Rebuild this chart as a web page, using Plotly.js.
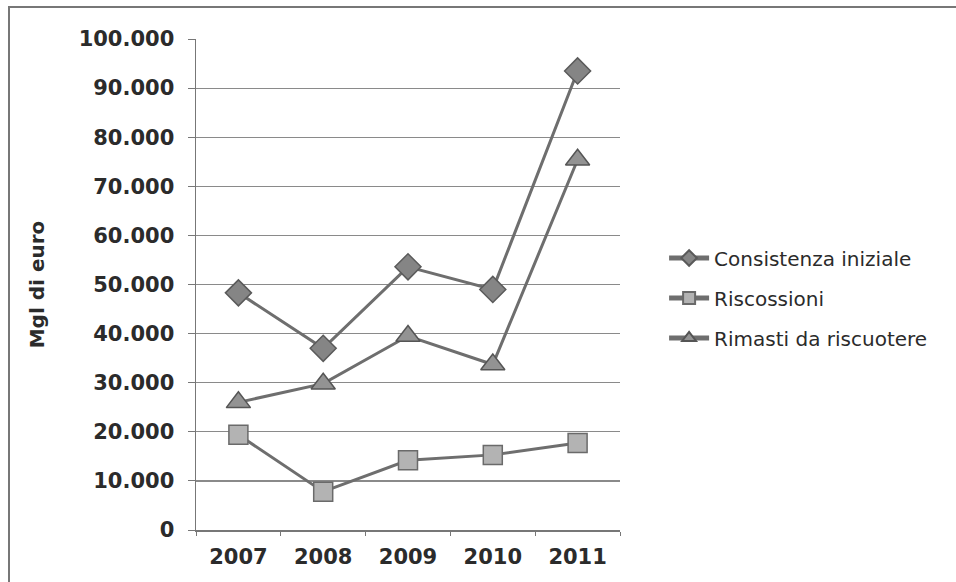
<!DOCTYPE html>
<html>
<head>
<meta charset="utf-8">
<script src="https://cdn.plot.ly/plotly-3.0.1.min.js"></script>
<style>
  html, body { margin: 0; padding: 0; background: #fff; }
  #wrap { position: relative; width: 956px; height: 582px; overflow: hidden; }
  #chart { width: 956px; height: 582px; }
  #frame { position: absolute; left: 8px; top: 6px; width: 960px; height: 600px;
           border-left: 2px solid #777; border-top: 2px solid #777; pointer-events: none; }
</style>
</head>
<body>
<div id="wrap">
  <div id="chart"></div>
  <div id="frame"></div>
</div>
<script>
const years = ['2007', '2008', '2009', '2010', '2011'];
const consistenzaIniziale = [48300, 37000, 53600, 49000, 93500];
const riscossioni = [19400, 7800, 14200, 15300, 17700];
const rimastiDaRiscuotere = [26000, 29800, 39500, 33700, 75400];
const seriesNames = ['Consistenza iniziale', 'Riscossioni', 'Rimasti da riscuotere'];
const yTickValues = [0, 10000, 20000, 30000, 40000, 50000, 60000, 70000, 80000, 90000, 100000];
const yTickLabels = ['0', '10.000', '20.000', '30.000', '40.000', '50.000', '60.000', '70.000', '80.000', '90.000', '100.000'];

const lineColor = '#6e6e6e';
const traces = [
  {
    x: years, y: consistenzaIniziale, name: seriesNames[0], type: 'scatter', mode: 'lines+markers',
    legendgroup: 'a',
    line: { color: lineColor, width: 3 },
    marker: { symbol: 'diamond', size: 20, color: '#858585', line: { color: '#5a5a5a', width: 1.5 } }
  },
  {
    x: years, y: riscossioni, name: seriesNames[1], type: 'scatter', mode: 'lines+markers',
    legendgroup: 'b',
    line: { color: lineColor, width: 3 },
    marker: { symbol: 'square', size: 19, color: '#b3b3b3', line: { color: '#6a6a6a', width: 1.5 } }
  },
  {
    x: years, y: rimastiDaRiscuotere, name: seriesNames[2], type: 'scatter', mode: 'lines+markers',
    legendgroup: 'c',
    line: { color: lineColor, width: 3 },
    marker: { symbol: 'triangle-up', size: 21, color: '#939393', line: { color: '#555', width: 1.5 } }
  }
];

const fam = 'DejaVu Sans, Verdana, sans-serif';
const layout = {
  width: 956, height: 582,
  margin: { l: 196, r: 336, t: 39, b: 52 },
  paper_bgcolor: '#ffffff', plot_bgcolor: '#ffffff',
  showlegend: true,
  font: { family: fam, color: '#2b2b2b' },
  xaxis: {
    type: 'category',
    range: [-0.5, 4.5],
    showgrid: false,
    showline: true, linecolor: '#777', linewidth: 1.5,
    ticks: 'outside', tickson: 'boundaries', ticklen: 4, tickcolor: '#777',
    ticklabelstandoff: 7,
    tickfont: { family: fam, size: 21, color: '#2b2b2b', weight: 'bold' },
    zeroline: false
  },
  yaxis: {
    range: [0, 100000],
    tickvals: yTickValues, ticktext: yTickLabels,
    showgrid: true, gridcolor: '#8a8a8a', gridwidth: 1.2,
    showline: true, linecolor: '#777', linewidth: 1.5,
    ticks: 'outside', ticklen: 7, tickcolor: '#777',
    ticklabelstandoff: 9,
    tickfont: { family: fam, size: 21, color: '#2b2b2b', weight: 'bold' },
    zeroline: false,
    title: { text: 'Mgl di euro', standoff: 28,
             font: { family: fam, size: 20, color: '#2b2b2b', weight: 'bold' } }
  },
  legend: {
    x: 1.104, xanchor: 'left', xref: 'paper',
    y: 0.4725, yanchor: 'middle',
    traceorder: 'grouped', tracegroupgap: 11,
    itemwidth: 40, itemsizing: 'constant',
    bgcolor: 'rgba(0,0,0,0)',
    font: { family: fam, size: 20, color: '#2b2b2b' }
  }
};

Plotly.newPlot('chart', traces, layout, { displayModeBar: false, staticPlot: true });
</script>
</body>
</html>
